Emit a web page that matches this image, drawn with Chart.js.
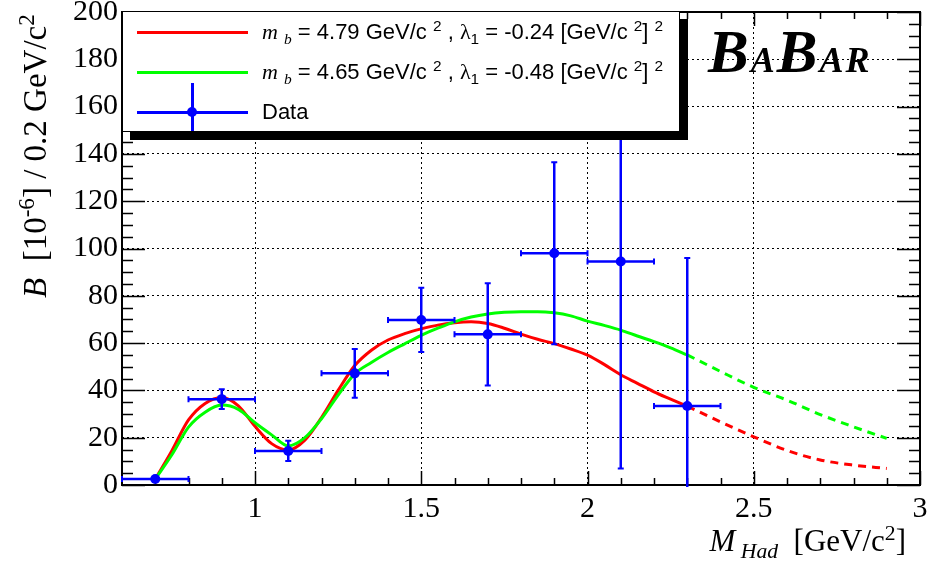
<!DOCTYPE html>
<html>
<head>
<meta charset="utf-8">
<title>B vs M_Had</title>
<script src="https://cdn.jsdelivr.net/npm/chart.js@4.4.1/dist/chart.umd.min.js"></script>
<style>
  body { margin: 0; background: #fff; }
  #wrap { position: relative; width: 927px; height: 562px; overflow: hidden; }
  #chart { position: absolute; left: 0; top: 0; }
  .serif { font-family: 'Liberation Serif', 'Times New Roman', serif; }
  .it { font-style: italic; }
  .sup { font-size: 0.7em; position: relative; top: -0.5em; }
  .sub { font-size: 0.7em; position: relative; top: 0.3em; }
  #ytitle {
    position: absolute; left: 15px; top: 298px; height: 40px;
    line-height: 40px; font-size: 33px; white-space: nowrap;
    transform-origin: 0 0; transform: rotate(-90deg);
  }
  #xtitle {
    position: absolute; right: 21px; top: 523px; height: 36px; line-height: 36px;
    font-size: 31px; white-space: nowrap;
  }
  #legend {
    position: absolute; left: 122px; top: 11px; width: 556px; height: 119px;
    border: 1px solid #000; background: #fff; box-shadow: 8px 8px 0 #000;
    overflow: hidden; font-family: 'Liberation Sans', Arial, sans-serif; font-size: 22px;
  }
  .row { position: absolute; left: 0; height: 40px; display: flex; align-items: center; white-space: nowrap; }
  .sample { position: relative; width: 111px; height: 40px; margin-left: 14px; margin-right: 14px; }
  .sample .h { position: absolute; left: 0; right: 0; top: 19px; height: 2.5px; }
  .sample .v { position: absolute; left: 54px; width: 2.5px; top: -9px; height: 58px; background: #0000ff; }
  .sample .dot { position: absolute; left: 50px; top: 15px; width: 10px; height: 10px; border-radius: 50%; background: #0000ff; }
  #babar {
    position: absolute; left: 708px; top: 22px; line-height: 60px; white-space: nowrap; letter-spacing: 2px;
    font-family: 'Liberation Serif', 'Times New Roman', serif; font-weight: bold; font-style: italic;
  }
  #babar .big { font-size: 61px; }
  #babar .small { font-size: 36px; }
</style>
</head>
<body>
<div id="wrap">
  <canvas id="chart" width="927" height="562"></canvas>

  <div id="ytitle" class="serif"><span class="it">B</span>&nbsp; [10<span class="sup">-6</span>] / 0.2 GeV/c<span class="sup">2</span></div>
  <div id="xtitle" class="serif"><span class="it">M</span><span class="sub it">&nbsp;Had</span>&nbsp; [GeV/c<span class="sup">2</span>]</div>

  <div id="legend"></div>

  <div id="babar"><span class="big">B</span><span class="small">A</span><span class="big">B</span><span class="small">AR</span></div>
</div>

<script>
const chartCanvas = document.getElementById('chart');
const legendBox = document.getElementById('legend');

// Axis ticks
const xTicks = [1, 1.5, 2, 2.5, 3];
const yTicks = [0, 20, 40, 60, 80, 100, 120, 140, 160, 180, 200];

// Measured data points (bin centres, B per 0.2 GeV/c^2)
const dataX = [0.7, 0.9, 1.1, 1.3, 1.5, 1.7, 1.9, 2.1, 2.3];
const dataY = [2.5, 36.3, 14.4, 47.2, 69.8, 63.7, 98.0, 94.5, 33.4];
const dataErrY = [0.8, 4.2, 4.3, 10.3, 13.6, 21.6, 38.5, 87.5, 62.6];
const dataErrX = [0.1, 0.1, 0.1, 0.1, 0.1, 0.1, 0.1, 0.1, 0.1];

// Model 1: m_b = 4.79, lambda1 = -0.24 (solid inside fit range, dashed outside)
const redX = [0.7, 0.75, 0.8, 0.85, 0.9, 0.95, 1.0, 1.05, 1.1, 1.15, 1.2, 1.25, 1.3, 1.35, 1.4, 1.45, 1.5,
              1.55, 1.6, 1.65, 1.7, 1.75, 1.8, 1.85, 1.9, 1.95, 2.0, 2.05, 2.1, 2.15, 2.2, 2.25, 2.3];
const redY = [2.5, 14.5, 27.5, 34.5, 37.0, 33.5, 24.8, 17.5, 14.8, 19.0, 28.5, 40.0, 50.5, 57.0, 61.3, 64.0, 66.0,
              67.6, 68.6, 69.0, 68.3, 66.3, 63.8, 61.6, 59.8, 57.5, 54.9, 51.0, 46.6, 43.0, 39.4, 36.3, 33.3];
const redDashX = [2.3, 2.4, 2.5, 2.6, 2.7, 2.8, 2.9];
const redDashY = [33.3, 26.7, 20.4, 14.6, 10.6, 8.4, 7.0];

// Model 2: m_b = 4.65, lambda1 = -0.48
const greenX = [0.7, 0.75, 0.8, 0.85, 0.9, 0.95, 1.0, 1.05, 1.1, 1.15, 1.2, 1.25, 1.3, 1.35, 1.4, 1.45, 1.5,
                1.55, 1.6, 1.65, 1.7, 1.75, 1.8, 1.85, 1.9, 1.95, 2.0, 2.05, 2.1, 2.15, 2.2, 2.25, 2.3];
const greenY = [2.5, 12.8, 24.5, 30.8, 33.8, 32.0, 26.3, 21.2, 16.5, 20.0, 28.0, 38.0, 47.0, 51.8, 56.0, 59.7, 63.3,
                66.3, 69.0, 71.0, 72.3, 73.0, 73.3, 73.3, 72.8, 71.5, 69.3, 67.5, 65.5, 63.0, 60.6, 58.0, 55.0];
const greenDashX = [2.3, 2.4, 2.5, 2.6, 2.7, 2.8, 2.9];
const greenDashY = [55.0, 48.0, 41.3, 35.9, 29.8, 24.6, 19.7];

const legendLabels = [
    '<span class="serif it">m</span> <span class="sub serif it">b</span> = 4.79 GeV/c <span class="sup">2</span> , <span class="serif">&lambda;</span><span class="sub">1</span> = -0.24 [GeV/c <span class="sup">2</span>] <span class="sup">2</span>',
    '<span class="serif it">m</span> <span class="sub serif it">b</span> = 4.65 GeV/c <span class="sup">2</span> , <span class="serif">&lambda;</span><span class="sub">1</span> = -0.48 [GeV/c <span class="sup">2</span>] <span class="sup">2</span>',
    'Data'
];

const RED = '#ff0000';
const GREEN = '#00ff00';
const BLUE = '#0000ff';

function toPoints(xs, ys) {
    return xs.map((x, i) => ({ x: x, y: ys[i] }));
}

// Build the legend (HTML, so sub/superscripts work)
function buildLegend() {
    const colors = [RED, GREEN, BLUE];
    legendBox.innerHTML = '';
    legendLabels.forEach((label, i) => {
        const row = document.createElement('div');
        row.className = 'row';
        row.style.top = (i * 40) + 'px';
        let sample = `<div class="h" style="background:${colors[i]}"></div>`;
        if (i === 2) sample += '<div class="v"></div><div class="dot"></div>';
        row.innerHTML = `<div class="sample">${sample}</div><div>${label}</div>`;
        legendBox.appendChild(row);
    });
}

// ROOT-like frame with ticks pointing inwards on all four sides
const frameTicks = {
    id: 'frameTicks',
    beforeDatasetsDraw(chart) {
        const { ctx, chartArea: a, scales: { x, y } } = chart;
        ctx.save();
        ctx.strokeStyle = '#000';
        ctx.lineWidth = 1.5;
        ctx.beginPath();

        // minor ticks
        const xMinor = Math.round((x.max - x.min) / 0.1);
        for (let k = 1; k < xMinor; k++) {
            const px = Math.round(x.getPixelForValue(x.min + k * 0.1)) + 0.5;
            ctx.moveTo(px, a.bottom); ctx.lineTo(px, a.bottom - 7);
            ctx.moveTo(px, a.top); ctx.lineTo(px, a.top + 7);
        }
        const yMinor = Math.round((y.max - y.min) / 5);
        for (let k = 1; k < yMinor; k++) {
            const py = Math.round(y.getPixelForValue(y.min + k * 5)) + 0.5;
            ctx.moveTo(a.left, py); ctx.lineTo(a.left + 11, py);
            ctx.moveTo(a.right, py); ctx.lineTo(a.right - 11, py);
        }
        // major ticks
        xTicks.forEach(v => {
            const px = Math.round(x.getPixelForValue(v)) + 0.5;
            ctx.moveTo(px, a.bottom); ctx.lineTo(px, a.bottom - 14);
            ctx.moveTo(px, a.top); ctx.lineTo(px, a.top + 14);
        });
        yTicks.forEach(v => {
            const py = Math.round(y.getPixelForValue(v)) + 0.5;
            ctx.moveTo(a.left, py); ctx.lineTo(a.left + 23, py);
            ctx.moveTo(a.right, py); ctx.lineTo(a.right - 23, py);
        });
        ctx.stroke();

        ctx.lineWidth = 2;
        ctx.strokeRect(a.left, a.top, a.right - a.left, a.bottom - a.top);
        ctx.restore();
    }
};

// Error bars with small end caps for the data points
const errorBars = {
    id: 'errorBars',
    afterDatasetsDraw(chart) {
        const { ctx, chartArea: a, scales: { x, y } } = chart;
        ctx.save();
        ctx.beginPath();
        ctx.rect(a.left - 2, a.top, a.right - a.left + 4, a.bottom - a.top + 2);
        ctx.clip();
        ctx.strokeStyle = BLUE;
        ctx.lineWidth = 2.5;
        const cap = 3;
        dataX.forEach((vx, i) => {
            const cx = x.getPixelForValue(vx);
            const cy = y.getPixelForValue(dataY[i]);
            const x0 = x.getPixelForValue(vx - dataErrX[i]);
            const x1 = x.getPixelForValue(vx + dataErrX[i]);
            const y0 = y.getPixelForValue(dataY[i] - dataErrY[i]);
            const y1 = y.getPixelForValue(dataY[i] + dataErrY[i]);
            ctx.beginPath();
            ctx.moveTo(x0, cy); ctx.lineTo(x1, cy);
            ctx.moveTo(cx, y0); ctx.lineTo(cx, y1);
            ctx.stroke();
            ctx.lineWidth = 2;
            ctx.beginPath();
            ctx.moveTo(x0, cy - cap); ctx.lineTo(x0, cy + cap);
            ctx.moveTo(x1, cy - cap); ctx.lineTo(x1, cy + cap);
            if (dataErrY[i] > 2) {
                ctx.moveTo(cx - cap, y0); ctx.lineTo(cx + cap, y0);
                ctx.moveTo(cx - cap, y1); ctx.lineTo(cx + cap, y1);
            }
            ctx.stroke();
            ctx.lineWidth = 2.5;
        });
        ctx.restore();
    }
};

function curve(label, xs, ys, color, dashed) {
    return {
        label: label,
        data: toPoints(xs, ys),
        showLine: true,
        borderColor: color,
        backgroundColor: color,
        borderWidth: 3,
        borderDash: dashed ? [8, 6] : [],
        pointRadius: 0,
        cubicInterpolationMode: 'monotone',
        fill: false
    };
}

const chart = new Chart(chartCanvas, {
    type: 'scatter',
    data: {
        datasets: [
            {
                label: 'Data',
                data: toPoints(dataX, dataY),
                pointRadius: 5,
                pointBackgroundColor: BLUE,
                pointBorderWidth: 0,
                showLine: false
            },
            curve('green', greenX, greenY, GREEN, false),
            curve('green ext', greenDashX, greenDashY, GREEN, true),
            curve('red', redX, redY, RED, false),
            curve('red ext', redDashX, redDashY, RED, true)
        ]
    },
    options: {
        responsive: false,
        animation: false,
        layout: { padding: { top: 12, right: 7, bottom: 0, left: 0 } },
        plugins: {
            legend: { display: false },
            tooltip: { enabled: false }
        },
        scales: {
            x: {
                type: 'linear',
                min: 0.6,
                max: 3,
                afterBuildTicks: scale => { scale.ticks = xTicks.map(v => ({ value: v })); },
                afterFit: scale => { scale.height = 77; scale.paddingLeft = 0; scale.paddingRight = 0; },
                ticks: {
                    autoSkip: false,
                    maxRotation: 0,
                    padding: 6,
                    color: '#000',
                    font: { family: 'Liberation Serif', size: 30 },
                    callback: v => String(v)
                },
                grid: { color: '#000', lineWidth: 1, drawTicks: false },
                border: { display: false, dash: [2, 3] }
            },
            y: {
                type: 'linear',
                min: 0,
                max: 200,
                afterBuildTicks: scale => { scale.ticks = yTicks.map(v => ({ value: v })); },
                afterFit: scale => { scale.width = 122; scale.paddingTop = 0; scale.paddingBottom = 0; },
                ticks: {
                    autoSkip: false,
                    padding: 4,
                    color: '#000',
                    font: { family: 'Liberation Serif', size: 30 },
                    callback: v => String(v)
                },
                grid: { color: '#000', lineWidth: 1, drawTicks: false },
                border: { display: false, dash: [2, 3] }
            }
        }
    },
    plugins: [frameTicks, errorBars]
});

buildLegend();
</script>
</body>
</html>
